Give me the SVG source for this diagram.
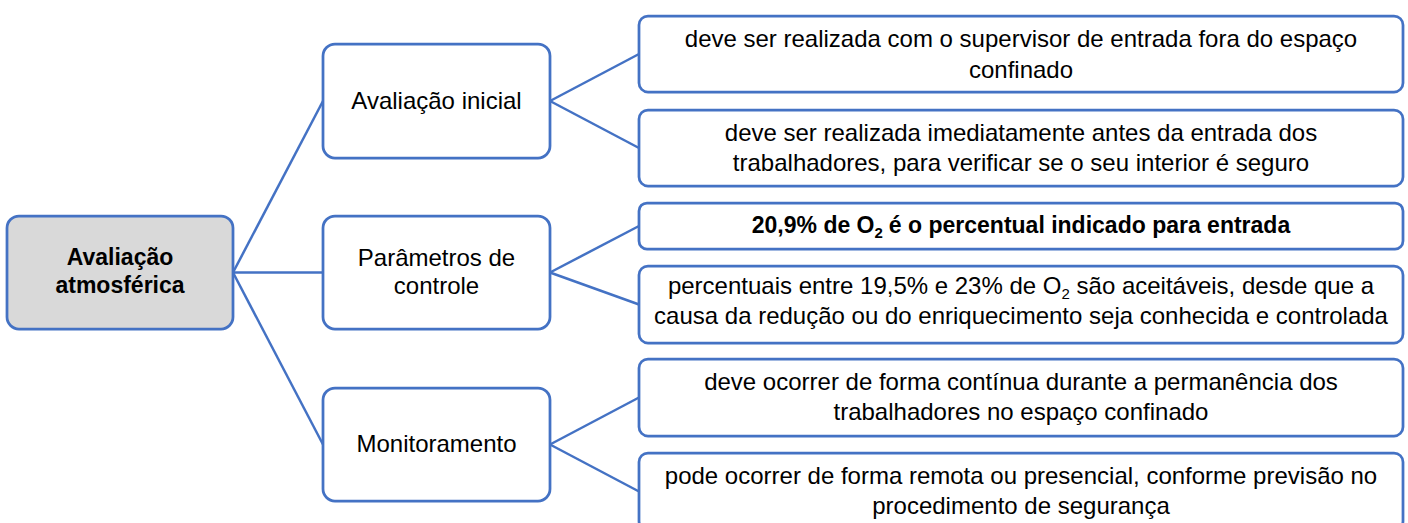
<svg xmlns="http://www.w3.org/2000/svg" width="1408" height="523" viewBox="0 0 1408 523">
<style>
.box{fill:#ffffff;stroke:#4472C4;stroke-width:2.75}
.root{fill:#d9d9d9;stroke:#4472C4;stroke-width:2.75}
.conn{stroke:#4472C4;stroke-width:2.5;fill:none}
text{font-family:"Liberation Sans",Arial,sans-serif;fill:#000;text-anchor:middle}
.t{font-size:24px}
.b{font-size:23px;font-weight:bold}
.sub{font-size:15px}
</style>
<rect width="1408" height="523" fill="#ffffff"/>
<g id="connectors">
<line class="conn" x1="233" y1="272.5" x2="323" y2="101"/>
<line class="conn" x1="233" y1="272.5" x2="323" y2="272.5"/>
<line class="conn" x1="233" y1="272.5" x2="323" y2="444.5"/>
<line class="conn" x1="550" y1="101" x2="639" y2="54"/>
<line class="conn" x1="550" y1="101" x2="639" y2="148"/>
<line class="conn" x1="550" y1="272.5" x2="639" y2="226"/>
<line class="conn" x1="550" y1="272.5" x2="639" y2="304.5"/>
<line class="conn" x1="550" y1="444.5" x2="639" y2="397.5"/>
<line class="conn" x1="550" y1="444.5" x2="639" y2="491.5"/>
</g>
<g id="root">
<rect class="root" x="7" y="216" width="226" height="113" rx="12"/>
<text class="b" x="120" y="265">Avaliação</text>
<text class="b" x="120" y="293">atmosférica</text>
</g>
<g id="avaliacao-inicial">
<rect class="box" x="323" y="44" width="227" height="114" rx="12"/>
<text class="t" x="436.5" y="109">Avaliação inicial</text>
</g>
<g id="parametros">
<rect class="box" x="323" y="216" width="227" height="113" rx="12"/>
<text class="t" x="436.5" y="265.5">Parâmetros de</text>
<text class="t" x="436.5" y="294">controle</text>
</g>
<g id="monitoramento">
<rect class="box" x="323" y="388" width="227" height="113" rx="12"/>
<text class="t" x="436.5" y="452">Monitoramento</text>
</g>
<g id="r1">
<rect class="box" x="639" y="16" width="764" height="76" rx="9"/>
<text class="t" x="1021" y="47">deve ser realizada com o supervisor de entrada fora do espaço</text>
<text class="t" x="1021" y="78">confinado</text>
</g>
<g id="r2">
<rect class="box" x="639" y="110" width="764" height="76" rx="9"/>
<text class="t" x="1021" y="141">deve ser realizada imediatamente antes da entrada dos</text>
<text class="t" x="1021" y="171">trabalhadores, para verificar se o seu interior é seguro</text>
</g>
<g id="r3">
<rect class="box" x="639" y="203" width="764" height="46" rx="8"/>
<text class="b" x="1021" y="233">20,9% de O<tspan class="sub" dy="5">2</tspan><tspan dy="-5" dx="6">é o percentual indicado para entrada</tspan></text>
</g>
<g id="r4">
<rect class="box" x="639" y="266" width="764" height="77" rx="9"/>
<text class="t" x="1021" y="294">percentuais entre 19,5% e 23% de O<tspan class="sub" dy="5">2</tspan><tspan dy="-5"> são aceitáveis, desde que a</tspan></text>
<text class="t" x="1021" y="324">causa da redução ou do enriquecimento seja conhecida e controlada</text>
</g>
<g id="r5">
<rect class="box" x="639" y="359" width="764" height="77" rx="9"/>
<text class="t" x="1021" y="390">deve ocorrer de forma contínua durante a permanência dos</text>
<text class="t" x="1021" y="420">trabalhadores no espaço confinado</text>
</g>
<g id="r6">
<rect class="box" x="639" y="453" width="764" height="77" rx="9"/>
<text class="t" x="1021" y="484">pode ocorrer de forma remota ou presencial, conforme previsão no</text>
<text class="t" x="1021" y="514">procedimento de segurança</text>
</g>
</svg>
